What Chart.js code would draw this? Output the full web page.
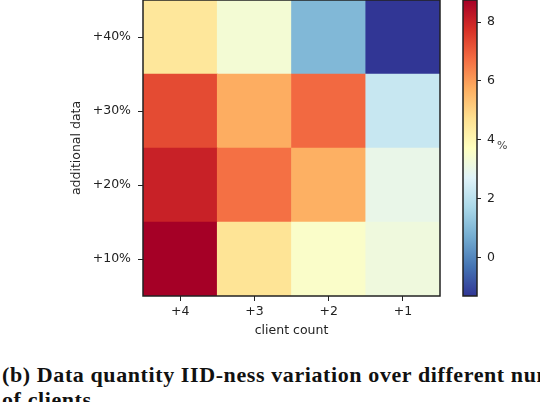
<!DOCTYPE html>
<html>
<head>
<meta charset="utf-8">
<script src="https://cdn.jsdelivr.net/npm/chart.js@4.4.0/dist/chart.umd.min.js"></script>
<style>
  body { margin: 0; width: 540px; height: 402px; overflow: hidden; background: #fff; position: relative; }
  #heat { position: absolute; left: 0; top: 0; }
  #cbar { position: absolute; left: 440px; top: 0; }
  .caption {
    position: absolute; left: 2px; top: 362px;
    font: bold 22px 'Liberation Serif', serif; letter-spacing: 0.6px;
    line-height: 25px; white-space: nowrap; color: #111;
  }
</style>
</head>
<body>
<canvas id="heat" width="460" height="345"></canvas>
<canvas id="cbar" width="100" height="310"></canvas>
<div class="caption">(b) Data quantity IID-ness variation over different number<br>of clients</div>
<script>
// columns (left to right) and rows (bottom to top)
const clientCounts = ['+4', '+3', '+2', '+1']
const extraData = ['+10%', '+20%', '+30%', '+40%']

// one array per row, values in %
const row10 = [8.75, 4.6, 3.55, 3.2]
const row20 = [8.05, 6.7, 5.7, 3.0]
const row30 = [7.3, 5.75, 6.8, 2.25]
const row40 = [4.5, 3.35, 0.95, -1.3]
const rows = [row10, row20, row30, row40]

const cbarTicks = [0, 2, 4, 6, 8]
const vMin = -1.3
const vMax = 8.75

// RdYlBu reversed
const cmap = ['#313695', '#4575b4', '#74add1', '#abd9e9', '#e0f3f8', '#ffffbf',
  '#fee090', '#fdae61', '#f46d43', '#d73027', '#a50026']

function hexRgb(h) {
  return [1, 3, 5].map(i => parseInt(h.slice(i, i + 2), 16))
}

function colorFor(v) {
  let t = (v - vMin) / (vMax - vMin)
  t = Math.max(0, Math.min(1, t)) * (cmap.length - 1)
  const i = Math.min(Math.floor(t), cmap.length - 2)
  const f = t - i
  const a = hexRgb(cmap[i]), b = hexRgb(cmap[i + 1])
  const c = a.map((x, k) => Math.round(x + (b[k] - x) * f))
  return 'rgb(' + c.join(',') + ')'
}

const tickFont = { family: 'DejaVu Sans', size: 12.5 }
const ink = '#222'

// no extra room above/below the plot for tick labels
function noPad(s) {
  s.paddingTop = 0
  s.paddingBottom = 0
}

const frame = {
  id: 'frame',
  afterDraw(chart) {
    const { ctx, chartArea: a } = chart
    ctx.save()
    ctx.strokeStyle = ink
    ctx.lineWidth = 1.5
    ctx.strokeRect(a.left, a.top, a.right - a.left, a.bottom - a.top)
    ctx.restore()
  }
}

const heatConfig = {
  type: 'bar',
  data: {
    labels: clientCounts,
    datasets: rows.map((vals, r) => ({
      data: vals.map(() => [r, r + 1]),
      backgroundColor: vals.map(colorFor),
      borderWidth: 0,
      grouped: false,
      barPercentage: 1,
      categoryPercentage: 1,
    })),
  },
  options: {
    responsive: false,
    animation: false,
    layout: { padding: { left: 0, right: 20, top: 0, bottom: 0 } },
    plugins: { legend: { display: false }, tooltip: { enabled: false } },
    scales: {
      x: {
        grid: { offset: false, drawOnChartArea: false, tickLength: 5, tickColor: ink },
        border: { display: false },
        ticks: { color: ink, font: tickFont, padding: 3 },
        title: { display: true, text: 'client count', color: ink, font: tickFont, padding: { top: 0, bottom: 7 } },
        afterFit: s => { s.height = 49 },
      },
      y: {
        min: 0,
        max: 4,
        afterBuildTicks: s => { s.ticks = extraData.map((_, i) => ({ value: i + 0.5 })) },
        grid: { drawOnChartArea: false, tickLength: 5, tickColor: ink },
        border: { display: false },
        ticks: { color: ink, font: tickFont, padding: 7, callback: (v, i) => extraData[i] },
        title: { display: true, text: 'additional data', color: ink, font: tickFont, padding: { top: 69, bottom: 0 } },
        afterFit: s => { s.width = 143; noPad(s) },
      },
    },
  },
  plugins: [frame],
}

const percentMark = {
  id: 'percentMark',
  afterDraw(chart) {
    const { ctx, chartArea: a } = chart
    const y = chart.scales.y.getPixelForValue(4)
    ctx.save()
    ctx.fillStyle = '#444'
    ctx.font = '11px DejaVu Sans'
    ctx.textBaseline = 'middle'
    ctx.fillText('%', a.right + 20, y + 6)
    ctx.restore()
  }
}

const cbarConfig = {
  type: 'bar',
  data: {
    labels: [''],
    datasets: [{
      data: [[vMin, vMax]],
      backgroundColor: ctx => {
        const chart = ctx.chart
        if (!chart.chartArea) return cmap[5]
        const y = chart.scales.y
        const g = chart.ctx.createLinearGradient(0, y.getPixelForValue(vMin), 0, y.getPixelForValue(vMax))
        cmap.forEach((c, i) => g.addColorStop(i / (cmap.length - 1), c))
        return g
      },
      borderWidth: 0,
      barPercentage: 1,
      categoryPercentage: 1,
    }],
  },
  options: {
    responsive: false,
    animation: false,
    layout: { padding: { left: 23, right: 0, top: 0, bottom: 14 } },
    plugins: { legend: { display: false }, tooltip: { enabled: false } },
    scales: {
      x: { display: false },
      y: {
        position: 'right',
        min: vMin,
        max: vMax,
        afterBuildTicks: s => { s.ticks = cbarTicks.map(v => ({ value: v })) },
        grid: { drawOnChartArea: false, tickLength: 4, tickColor: ink },
        border: { display: false },
        ticks: { color: ink, font: tickFont, padding: 6 },
        afterFit: s => { s.width = 63; noPad(s) },
      },
    },
  },
  plugins: [frame, percentMark],
}

window.heatChart = new Chart(document.getElementById('heat'), heatConfig)
window.cbarChart = new Chart(document.getElementById('cbar'), cbarConfig)
</script>
</body>
</html>
